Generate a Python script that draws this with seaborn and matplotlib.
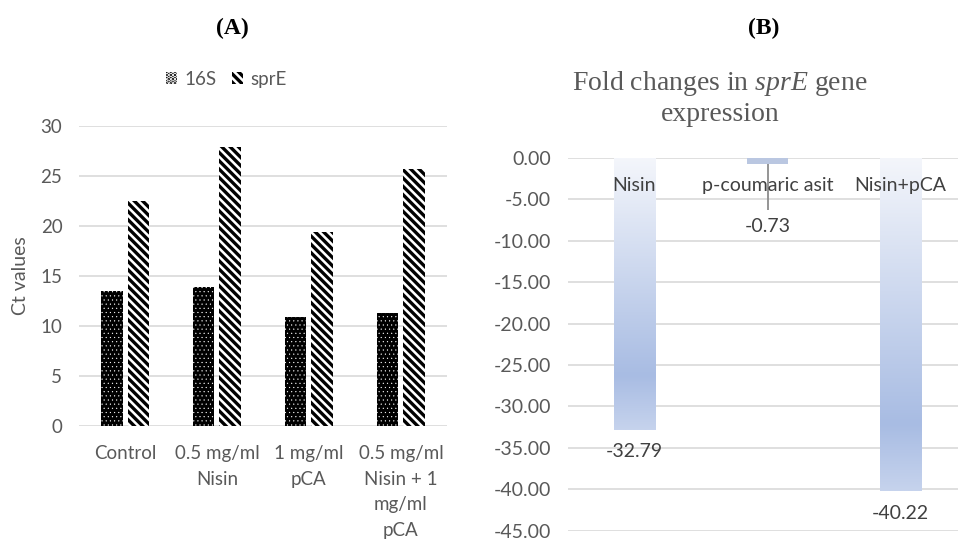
import numpy as np
import pandas as pd
import seaborn as sns
import matplotlib.pyplot as plt
from matplotlib.patches import Patch
from matplotlib.colors import LinearSegmentedColormap

# data - panel A (Ct values)
groups = ["Control", "0.5 mg/ml\nNisin", "1 mg/ml\npCA", "0.5 mg/ml\nNisin + 1\nmg/ml\npCA"]
ct_16s = [13.5, 13.9, 10.9, 11.3]
ct_spre = [22.5, 27.9, 19.4, 25.7]

# data - panel B (fold changes)
treatments = ["Nisin", "p-coumaric asit", "Nisin+pCA"]
fold = [-32.79, -0.73, -40.22]
fold_err = [0, 5.6, 0]

sns.set_theme(style="white")
plt.rcParams["font.family"] = ["Lato", "DejaVu Sans"]
plt.rcParams["mathtext.fontset"] = "custom"
plt.rcParams["mathtext.rm"] = "Liberation Serif"
plt.rcParams["mathtext.it"] = "Liberation Serif:italic"
plt.rcParams["hatch.linewidth"] = 2.4

gray = "#595959"
grid = "#d9d9d9"
dots = "...."
stripes = "\\\\\\\\"


def thin_hatch(p):
    # dots look better with a thin hatch line, stripes need the thick one
    if hasattr(p, "set_hatch_linewidth"):
        p.set_hatch_linewidth(0.3)


fig = plt.figure(figsize=(9.58, 5.4), dpi=100)
ax1 = fig.add_axes([0.0825, 0.2117, 0.384, 0.5556])
ax2 = fig.add_axes([0.5929, 0.0172, 0.4165, 0.6907])

# ---- Panel A ----
df = pd.DataFrame({
    "group": groups * 2,
    "ct": ct_16s + ct_spre,
    "gene": ["16S"] * 4 + ["sprE"] * 4,
})
sns.barplot(data=df, x="group", y="ct", hue="gene", palette=["black", "white"],
            width=0.57, gap=0.19, ax=ax1, legend=False, zorder=3)

for bar in ax1.containers[0]:
    bar.set_hatch(dots)
    bar.set_edgecolor("white")
    bar.set_linewidth(0)
    thin_hatch(bar)
for bar in ax1.containers[1]:
    bar.set_hatch(stripes)
    bar.set_edgecolor("black")
    bar.set_linewidth(0)

ax1.set_ylim(0, 30)
ax1.set_xlim(-0.5, 3.5)
ax1.set_yticks(range(0, 31, 5))
ax1.yaxis.grid(True, color=grid, lw=1.2, zorder=0)
ax1.set_axisbelow(True)
for s in ax1.spines.values():
    s.set_visible(False)
ax1.tick_params(axis="both", colors=gray, labelsize=13.5, length=0)
ax1.tick_params(axis="x", pad=14)
ax1.tick_params(axis="y", pad=12)
for lab in ax1.get_xticklabels():
    lab.set_linespacing(1.62)
ax1.set_xlabel("")
ax1.set_ylabel("Ct values", color=gray, fontsize=14, labelpad=8)

h16 = Patch(facecolor="black", edgecolor="white", hatch=dots, linewidth=0, label="16S")
thin_hatch(h16)
hspr = Patch(facecolor="white", edgecolor="black", hatch=stripes, linewidth=0, label="sprE")
ax1.legend(handles=[h16, hspr], loc="lower center", bbox_to_anchor=(0.4, 1.07), ncol=2,
           frameon=False, fontsize=13.5, labelcolor=gray, handlelength=0.6,
           handleheight=0.6, handletextpad=0.4, columnspacing=0.8)

# ---- Panel B ----
fold_df = pd.DataFrame({"treatment": treatments, "fold": fold})
sns.barplot(data=fold_df, x="treatment", y="fold", color="#b4c5e7", width=0.31,
            ax=ax2, zorder=3)

cmap = LinearSegmentedColormap.from_list(
    "fade", [(0, "#f4f6fb"), (0.8, "#a8bce3"), (1, "#c6d3ed")])
grad = np.linspace(0, 1, 256).reshape(-1, 1)
for bar in ax2.patches:
    x0, y0 = bar.get_x(), bar.get_y()
    w, h = bar.get_width(), bar.get_height()
    if abs(h) > 2:
        im = ax2.imshow(grad, extent=[x0, x0 + w, y0 + h, y0], aspect="auto",
                        cmap=cmap, zorder=4, origin="upper")
        im.set_clip_path(bar)
    bar.set_linewidth(0)

ax2.errorbar(range(len(fold)), fold, yerr=[fold_err, [0] * len(fold)], fmt="none",
             ecolor="#8c8c8c", elinewidth=1.3, capsize=0, zorder=5)

for i, (name, v, e) in enumerate(zip(treatments, fold, fold_err)):
    ax2.text(i, -3.3, name, ha="center", va="center", fontsize=14, color="#404040", zorder=6)
    ax2.annotate(f"{v:.2f}", (i, v - e), xytext=(0, -16 if e == 0 else -12),
                 textcoords="offset points", ha="center", va="center",
                 fontsize=14, color="#404040", zorder=6)

ax2.set_ylim(-45, 0)
ax2.set_xlim(-0.5, 2.5)
ax2.set_yticks(np.arange(-45, 1, 5))
ax2.set_yticklabels([f"{t:.2f}" for t in np.arange(-45, 1, 5)])
ax2.yaxis.grid(True, color=grid, lw=1.2, zorder=0)
ax2.set_axisbelow(True)
for s in ax2.spines.values():
    s.set_visible(False)
ax2.set_xticks([])
ax2.set_xlabel("")
ax2.set_ylabel("")
ax2.tick_params(axis="y", colors=gray, labelsize=14, length=0, pad=12)

fig.text(0.7516, 0.818, "Fold changes in $\\it{sprE}$ gene\nexpression", ha="center",
         va="center", fontsize=20, color=gray, family="Liberation Serif", linespacing=1.2)

# panel letters
fig.text(0.243, 0.948, "(A)", ha="center", va="center", fontsize=17,
         fontweight="bold", family="Liberation Serif", color="black")
fig.text(0.797, 0.948, "(B)", ha="center", va="center", fontsize=17,
         fontweight="bold", family="Liberation Serif", color="black")

fig.savefig("out.png", dpi=100)
